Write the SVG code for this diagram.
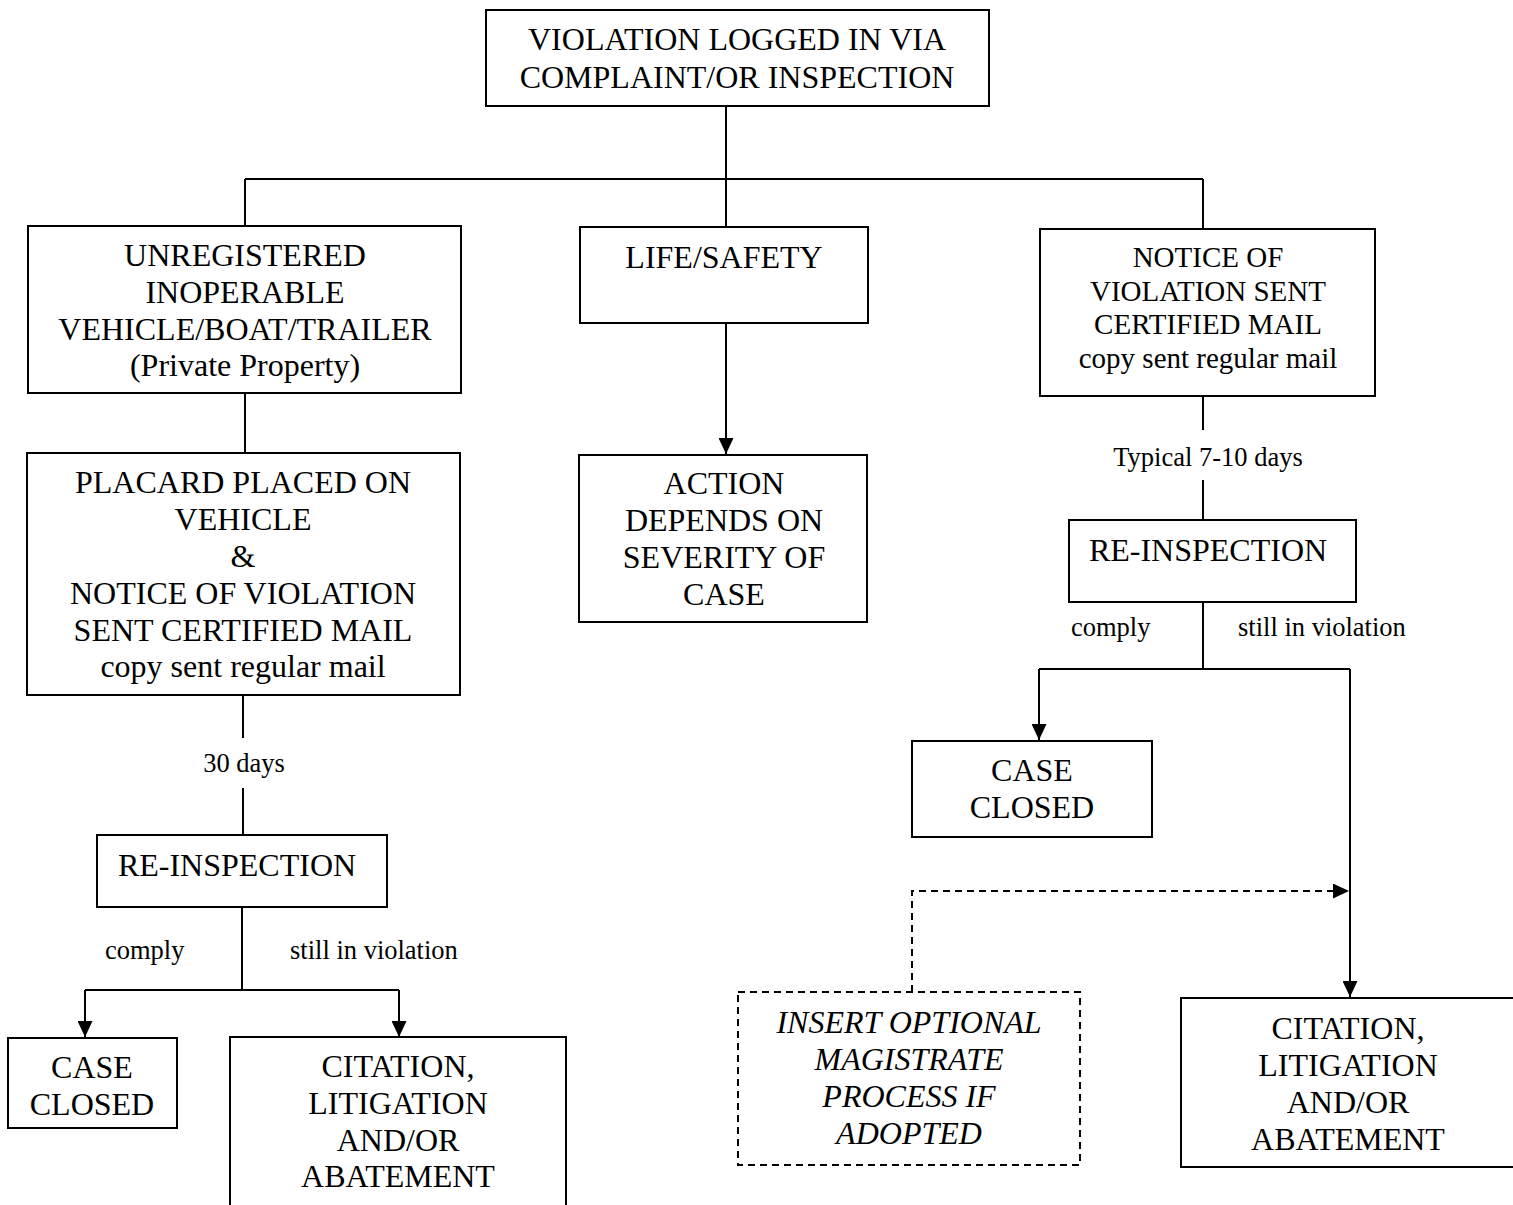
<svg xmlns="http://www.w3.org/2000/svg" width="1513" height="1205" viewBox="0 0 1513 1205">
<defs>
<style>
.box{fill:#fff;stroke:#000;stroke-width:2}
.dbox{fill:#fff;stroke:#000;stroke-width:2;stroke-dasharray:7 5}
.t{font-family:"Liberation Serif","Times New Roman",serif;font-size:32px;fill:#000;text-anchor:middle}
.tm{font-family:"Liberation Serif","Times New Roman",serif;font-size:29px;fill:#000;text-anchor:middle}
.ti{font-family:"Liberation Serif","Times New Roman",serif;font-size:32px;font-style:italic;fill:#000;text-anchor:middle}
.lbl{font-family:"Liberation Serif","Times New Roman",serif;font-size:26.5px;fill:#000}
.c{fill:none;stroke:#000;stroke-width:2}
.cd{fill:none;stroke:#000;stroke-width:2;stroke-dasharray:7 5}
</style>
<marker id="ah" markerUnits="userSpaceOnUse" markerWidth="16" markerHeight="15" refX="16" refY="7.5" orient="auto">
<path d="M0,0 L16,7.5 L0,15 Z" fill="#000"/>
</marker>
</defs>
<rect width="1513" height="1205" fill="#fff"/>

<g id="connectors">
<path class="c" d="M726,106 V179"/>
<path class="c" d="M245,179 H1203"/>
<path class="c" d="M245,179 V226"/>
<path class="c" d="M726,179 V228"/>
<path class="c" d="M1203,179 V229"/>
<path class="c" d="M245,393 V453"/>
<path class="c" d="M726,323 V454" marker-end="url(#ah)"/>
<path class="c" d="M243,695 V738"/>
<path class="c" d="M243,788 V835"/>
<path class="c" d="M242,907 V990"/>
<path class="c" d="M85,990 H399"/>
<path class="c" d="M85,990 V1037" marker-end="url(#ah)"/>
<path class="c" d="M399,990 V1037" marker-end="url(#ah)"/>
<path class="c" d="M1203,396 V430"/>
<path class="c" d="M1203,480 V520"/>
<path class="c" d="M1203,602 V669"/>
<path class="c" d="M1039,669 H1350"/>
<path class="c" d="M1039,669 V740" marker-end="url(#ah)"/>
<path class="c" d="M1350,669 V997" marker-end="url(#ah)"/>
<path class="cd" d="M912,992 V891 H1349" marker-end="url(#ah)"/>
<text class="lbl" x="244" y="772" text-anchor="middle">30 days</text>
<text class="lbl" x="105" y="959">comply</text>
<text class="lbl" x="290" y="959">still in violation</text>
<text class="lbl" x="1208" y="466" text-anchor="middle">Typical 7-10 days</text>
<text class="lbl" x="1071" y="636">comply</text>
<text class="lbl" x="1238" y="636">still in violation</text>
</g>

<g id="n-violation">
<rect class="box" x="486" y="10" width="503" height="96"/>
<text class="t" x="737" y="50">VIOLATION LOGGED IN VIA</text>
<text class="t" x="737" y="88">COMPLAINT/OR INSPECTION</text>
</g>

<g id="n-unregistered">
<rect class="box" x="28" y="226" width="433" height="167"/>
<text class="t" x="245" y="266">UNREGISTERED</text>
<text class="t" x="245" y="303">INOPERABLE</text>
<text class="t" x="245" y="340">VEHICLE/BOAT/TRAILER</text>
<text class="t" x="245" y="376">(Private Property)</text>
</g>

<g id="n-life">
<rect class="box" x="580" y="227" width="288" height="96"/>
<text class="t" x="724" y="268">LIFE/SAFETY</text>
</g>

<g id="n-notice">
<rect class="box" x="1040" y="229" width="335" height="167"/>
<text class="tm" x="1208" y="267">NOTICE OF</text>
<text class="tm" x="1208" y="301">VIOLATION SENT</text>
<text class="tm" x="1208" y="334">CERTIFIED MAIL</text>
<text class="tm" x="1208" y="368">copy sent regular mail</text>
</g>

<g id="n-placard">
<rect class="box" x="27" y="453" width="433" height="242"/>
<text class="t" x="243" y="493">PLACARD PLACED ON</text>
<text class="t" x="243" y="530">VEHICLE</text>
<text class="t" x="243" y="567">&amp;</text>
<text class="t" x="243" y="604">NOTICE OF VIOLATION</text>
<text class="t" x="243" y="641">SENT CERTIFIED MAIL</text>
<text class="t" x="243" y="677">copy sent regular mail</text>
</g>

<g id="n-action">
<rect class="box" x="579" y="455" width="288" height="167"/>
<text class="t" x="724" y="494">ACTION</text>
<text class="t" x="724" y="531">DEPENDS ON</text>
<text class="t" x="724" y="568">SEVERITY OF</text>
<text class="t" x="724" y="605">CASE</text>
</g>

<g id="n-reinspect-left">
<rect class="box" x="97" y="835" width="290" height="72"/>
<text class="t" x="237" y="876">RE-INSPECTION</text>
</g>

<g id="n-reinspect-right">
<rect class="box" x="1069" y="520" width="287" height="82"/>
<text class="t" x="1208" y="561">RE-INSPECTION</text>
</g>

<g id="n-closed-left">
<rect class="box" x="8" y="1038" width="169" height="90"/>
<text class="t" x="92" y="1078">CASE</text>
<text class="t" x="92" y="1115">CLOSED</text>
</g>

<g id="n-citation-left">
<rect class="box" x="230" y="1037" width="336" height="172"/>
<text class="t" x="398" y="1077">CITATION,</text>
<text class="t" x="398" y="1114">LITIGATION</text>
<text class="t" x="398" y="1151">AND/OR</text>
<text class="t" x="398" y="1187">ABATEMENT</text>
</g>

<g id="n-closed-right">
<rect class="box" x="912" y="741" width="240" height="96"/>
<text class="t" x="1032" y="781">CASE</text>
<text class="t" x="1032" y="818">CLOSED</text>
</g>

<g id="n-magistrate">
<rect class="dbox" x="738" y="992" width="342" height="173"/>
<text class="ti" x="909" y="1033">INSERT OPTIONAL</text>
<text class="ti" x="909" y="1070">MAGISTRATE</text>
<text class="ti" x="909" y="1107">PROCESS IF</text>
<text class="ti" x="909" y="1144">ADOPTED</text>
</g>

<g id="n-citation-right">
<rect class="box" x="1181" y="998" width="340" height="169"/>
<text class="t" x="1348" y="1039">CITATION,</text>
<text class="t" x="1348" y="1076">LITIGATION</text>
<text class="t" x="1348" y="1113">AND/OR</text>
<text class="t" x="1348" y="1150">ABATEMENT</text>
</g>
</svg>
